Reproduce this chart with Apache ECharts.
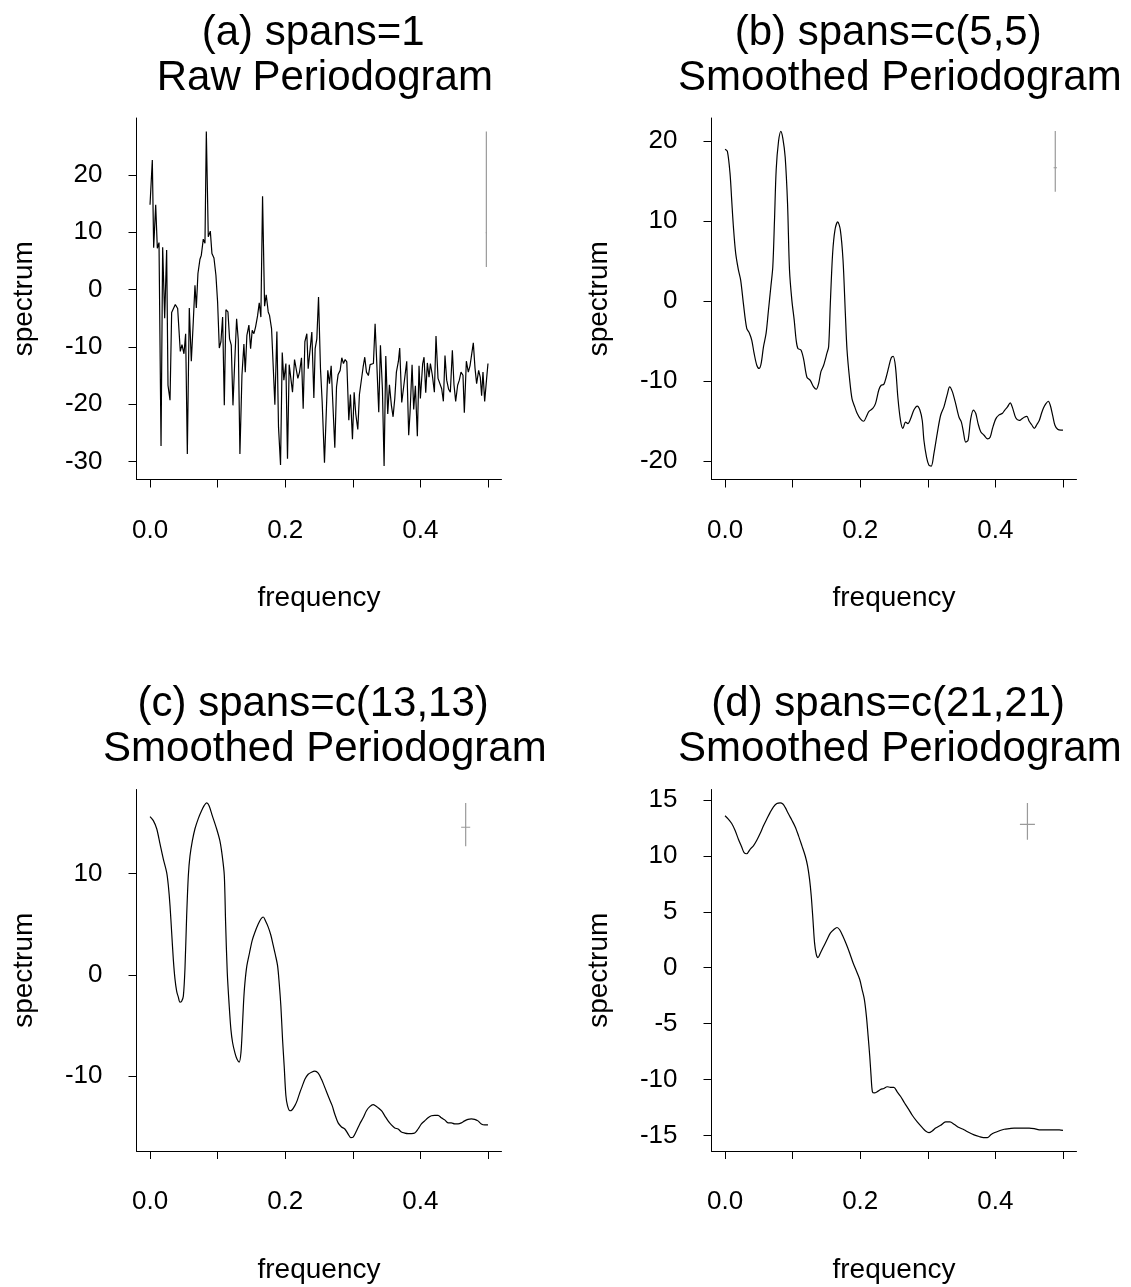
<!DOCTYPE html>
<html><head><meta charset="utf-8">
<script src="https://cdn.jsdelivr.net/npm/echarts@6.0.0/dist/echarts.min.js"></script>
<style>html,body{margin:0;padding:0;background:#fff}#c{width:1131px;height:1287px}</style>
</head><body><div id="c"></div>
<script>
// ---------- data ----------
const freqA = [0.0000,0.0034,0.0054,0.0084,0.0108,0.0133,0.0163,0.0187,0.0217,0.0246,0.0266,0.0296,0.0320,0.0345,0.0374,0.0409,0.0448,0.0473,0.0502,0.0527,0.0552,0.0581,0.0611,0.0640,0.0665,0.0685,0.0709,0.0739,0.0759,0.0788,0.0813,0.0833,0.0862,0.0892,0.0916,0.0946,0.0975,0.1000,0.1025,0.1049,0.1074,0.1099,0.1123,0.1153,0.1177,0.1202,0.1227,0.1251,0.1281,0.1305,0.1330,0.1360,0.1389,0.1409,0.1433,0.1463,0.1488,0.1512,0.1537,0.1562,0.1591,0.1616,0.1640,0.1665,0.1695,0.1719,0.1749,0.1768,0.1798,0.1823,0.1847,0.1877,0.1901,0.1931,0.1956,0.1980,0.2010,0.2034,0.2059,0.2084,0.2108,0.2138,0.2163,0.2187,0.2212,0.2241,0.2266,0.2291,0.2320,0.2340,0.2365,0.2394,0.2424,0.2443,0.2468,0.2493,0.2522,0.2547,0.2581,
  0.2630,0.2655,0.2680,0.2704,0.2734,0.2759,0.2783,0.2813,0.2837,0.2862,0.2887,0.2911,0.2941,0.2965,0.2995,0.3020,0.3044,0.3074,0.3098,0.3123,0.3153,0.3177,0.3202,0.3231,0.3256,0.3281,0.3305,0.3330,0.3355,0.3384,0.3409,0.3438,0.3463,0.3488,0.3517,0.3542,0.3571,0.3596,0.3621,0.3645,0.3675,0.3694,0.3724,0.3749,0.3773,0.3798,0.3827,0.3847,0.3877,0.3901,0.3926,0.3955,0.3980,0.4000,0.4034,0.4054,0.4079,0.4103,0.4128,0.4148,0.4177,0.4207,0.4231,0.4261,0.4286,0.4315,0.4340,0.4364,0.4389,0.4418,0.4443,0.4473,0.4497,0.4522,0.4551,0.4576,0.4601,0.4630,0.4650,0.4680,0.4709,0.4734,0.4763,0.4783,0.4808,0.4832,0.4862,0.4886,0.4906,0.4926,0.4951,0.4980,0.5000];
const specA = [14.8,22.6,7.3,14.8,7.2,8.2,-27.3,7.4,-5.0,6.9,-16.7,-19.3,-4.0,-4.2,-2.6,-3.3,-10.8,-9.6,-11.2,-7.7,-28.7,-3.2,-12.5,-5.6,0.75,-3.2,2.8,5.3,6.0,8.8,8.1,27.6,9.2,10.2,6.3,5.5,2.5,-2.2,-10.2,-9.1,-4.8,-20.2,-3.5,-3.9,-8.6,-9.7,-20.2,-13.2,-5.1,-8.7,-28.7,-15.0,-9.5,-14.4,-8.0,-6.2,-10.3,-7.1,-7.7,-6.5,-4.6,-2.3,-4.8,16.3,-2.9,-0.9,-3.9,-4.5,-6.8,-13.5,-20.1,-7.3,-24.0,-30.6,-11.0,-15.8,-12.9,-29.5,-13.1,-12.9,-17.9,-12.2,-12.5,-15.5,-14.4,-11.9,-20.8,-9.1,-7.7,-13.8,-13.5,-7.4,-18.9,-10.3,-8.6,-1.3,-13.8,-19.6,-30.2,
  -14.1,-16.4,-13.3,-13.5,-27.6,-17.0,-14.8,-14.1,-11.9,-12.9,-12.2,-12.6,-22.8,-18.3,-26.1,-17.9,-21.7,-24.4,-18.3,-18.2,-13.5,-11.8,-14.4,-15.0,-13.1,-13.3,-12.9,-5.96,-12.9,-21.4,-9.7,-17.3,-30.8,-11.6,-21.7,-16.6,-20.2,-22.2,-19.0,-14.4,-12.5,-10.2,-19.7,-17.3,-17.3,-12.5,-25.4,-21.5,-13.1,-20.9,-16.8,-25.6,-13.3,-19.0,-12.9,-11.8,-18.0,-12.8,-15.3,-12.9,-14.95,-17.9,-8.1,-15.5,-15.8,-17.3,-19.5,-11.5,-15.8,-17.4,-17.9,-10.6,-16.6,-19.5,-16.7,-15.8,-14.4,-14.95,-21.5,-12.5,-14.4,-13.3,-13.1,-9.3,-13.7,-16.4,-14.1,-15.3,-18.5,-14.4,-19.5,-15.5,-12.9];

const freqB = [0,0.0035,0.0074,0.0099,0.0124,0.0158,0.0198,0.0232,0.0272,0.0321,0.0361,0.0396,0.0430,0.0470,0.0504,0.0534,0.0569,0.0608,0.0643,0.0678,0.0707,0.0732,0.0757,0.0791,0.0826,0.0856,0.0890,0.0925,0.0954,0.0989,0.1024,0.1053,0.1078,0.1123,0.1162,0.1212,0.1261,0.1311,0.1350,0.1385,0.1419,0.1459,0.1508,0.1533,0.1558,0.1592,0.1627,0.1667,0.1706,0.1746,0.1780,0.1805,0.1845,0.1879,0.1919,0.1954,0.2003,0.2052,0.2092,0.2127,0.2186,0.2226,0.2275,0.2310,0.2349,0.2384,0.2423,0.2458,0.2488,0.2522,0.2557,0.2596,0.2631,0.2671,0.2705,0.2745,0.2794,0.2844,0.2883,0.2918,0.2943,0.2982,0.3017,0.3051,0.3091,0.3140,0.3190,0.3239,0.3289,0.3323,0.3363,0.3412,0.3462,0.3497,0.3526,0.3561,0.3595,0.3635,0.3675,0.3709,0.3744,0.3783,0.3833,0.3882,0.3922,0.3957,0.4006,0.4055,0.4105,0.4139,0.4179,0.4219,0.4253,0.4303,0.4352,0.4392,0.4426,0.4466,0.4500,0.4535,0.4575,0.4614,0.4649,0.4683,0.4713,0.4748,0.4782,0.4812,0.4847,0.4881,0.4921,0.4970,0.5000];
const specB = [18.96,18.7,15.96,12.6,9.3,5.96,3.9,2.6,-0.3,-3.4,-4.0,-4.9,-6.5,-8.0,-8.4,-7.8,-5.7,-4.0,-1.1,1.8,4.3,10.1,16.4,19.9,21.2,20.3,18.0,12.2,3.9,0.1,-2.4,-4.9,-5.9,-6.1,-7.2,-9.5,-9.9,-10.7,-11.0,-10.3,-8.8,-8.0,-6.5,-5.7,-0.3,5.96,8.9,9.9,8.9,5.1,-1.5,-6.1,-9.9,-12.2,-13.2,-14.0,-14.7,-15.0,-14.4,-13.8,-13.4,-12.8,-11.1,-10.5,-10.4,-9.5,-8.2,-7.1,-6.9,-8.2,-12.0,-14.9,-15.9,-15.1,-15.3,-14.7,-13.6,-13.1,-13.6,-14.9,-17.4,-19.5,-20.5,-20.6,-19.0,-16.5,-14.25,-13.2,-11.6,-10.7,-11.3,-12.8,-14.5,-15.1,-16.3,-17.6,-17.4,-14.7,-13.6,-14.0,-15.3,-16.3,-16.75,-17.2,-17.0,-15.9,-14.7,-14.2,-14.0,-13.6,-13.2,-12.7,-13.3,-14.6,-14.9,-14.7,-14.5,-14.4,-15.0,-15.4,-15.9,-15.4,-14.9,-14.0,-13.3,-12.8,-12.5,-13.0,-14.25,-15.5,-16.0,-16.1,-16.1];

const freqC = [0,0.0049,0.0099,0.0148,0.0197,0.0246,0.0271,0.0296,0.0320,0.0345,0.0369,0.0394,0.0419,0.0443,0.0468,0.0493,0.0517,0.0542,0.0567,0.0591,0.0626,0.0665,0.0714,0.0764,0.0803,0.0837,0.0872,0.0921,0.0985,0.1034,0.1069,0.1099,0.1118,0.1143,0.1172,0.1197,0.1222,0.1256,0.1286,0.1320,0.1345,0.1365,0.1384,0.1404,0.1433,0.1473,0.1512,0.1552,0.1601,0.1640,0.1675,0.1709,0.1749,0.1788,0.1823,0.1857,0.1887,0.1911,0.1936,0.1961,0.1985,0.2010,0.2034,0.2069,0.2103,0.2143,0.2177,0.2217,0.2251,0.2291,0.2340,0.2389,0.2438,0.2488,0.2537,0.2586,0.2645,0.2695,0.2734,0.2783,0.2833,0.2882,0.2931,0.2970,0.3005,0.3054,0.3103,0.3153,0.3202,0.3251,0.3300,0.3335,0.3374,0.3424,0.3473,0.3522,0.3571,0.3621,0.3670,0.3719,0.3768,0.3818,0.3867,0.3916,0.3966,0.4015,0.4064,0.4113,0.4163,0.4212,0.4261,0.4310,0.4360,0.4409,0.4458,0.4507,0.4557,0.4606,0.4655,0.4704,0.4754,0.4803,0.4852,0.4901,0.4951,0.5000];
const specC = [15.6,15.2,14.4,12.9,11.4,10.1,8.8,6.8,4.2,1.5,-0.4,-1.6,-2.2,-2.7,-2.6,-2.1,0.6,5.8,9.8,11.7,13.2,14.4,15.4,16.2,16.7,16.95,16.7,15.7,14.4,13.2,11.7,9.8,5.2,0.2,-3.1,-5.4,-6.7,-7.7,-8.3,-8.6,-7.7,-5.4,-2.7,-0.8,0.9,2.2,3.4,4.2,5.0,5.5,5.7,5.3,4.7,3.9,2.9,1.9,0.9,-0.8,-3.1,-6.4,-9.0,-11.9,-12.9,-13.4,-13.3,-12.9,-12.4,-11.6,-11.0,-10.3,-9.8,-9.6,-9.5,-9.7,-10.3,-11.1,-12.1,-12.9,-13.75,-14.6,-15.0,-15.2,-15.7,-16.05,-16.0,-15.4,-14.7,-14.1,-13.4,-13.0,-12.8,-12.9,-13.1,-13.4,-13.9,-14.4,-14.8,-15.1,-15.2,-15.5,-15.6,-15.65,-15.65,-15.6,-15.2,-14.7,-14.4,-14.1,-13.9,-13.85,-13.85,-14.1,-14.3,-14.6,-14.6,-14.7,-14.7,-14.6,-14.4,-14.25,-14.2,-14.25,-14.4,-14.7,-14.8,-14.8];

const freqD = [0,0.0049,0.0099,0.0148,0.0198,0.0247,0.0282,0.0321,0.0371,0.0420,0.0470,0.0519,0.0569,0.0618,0.0668,0.0717,0.0767,0.0816,0.0856,0.0890,0.0940,0.0989,0.1039,0.1088,0.1138,0.1187,0.1222,0.1251,0.1276,0.1301,0.1325,0.1350,0.1375,0.1410,0.1459,0.1508,0.1558,0.1607,0.1657,0.1696,0.1746,0.1795,0.1845,0.1894,0.1944,0.1993,0.2028,0.2062,0.2092,0.2117,0.2141,0.2161,0.2181,0.2211,0.2250,0.2300,0.2349,0.2399,0.2448,0.2497,0.2547,0.2596,0.2656,0.2720,0.2770,0.2844,0.2918,0.2967,0.3017,0.3066,0.3116,0.3190,0.3264,0.3328,0.3388,0.3462,0.3536,0.3610,0.3684,0.3759,0.3823,0.3882,0.3932,0.3991,0.4055,0.4130,0.4204,0.4278,0.4352,0.4426,0.4500,0.4575,0.4649,0.4723,0.4797,0.4871,0.4946,0.5000];
const specD = [13.6,13.3,12.9,12.3,11.5,10.8,10.3,10.2,10.6,10.9,11.4,12.0,12.7,13.3,13.9,14.4,14.7,14.75,14.65,14.35,13.75,13.2,12.6,11.8,10.9,10.0,9.1,7.9,6.4,4.3,2.2,1.2,0.9,1.3,1.9,2.5,3.1,3.4,3.6,3.4,2.8,2.1,1.3,0.45,-0.3,-1.05,-1.95,-2.85,-4.35,-6.1,-7.9,-9.7,-11.1,-11.2,-11.1,-10.9,-10.8,-10.65,-10.7,-10.7,-11.1,-11.5,-12.1,-12.7,-13.2,-13.8,-14.3,-14.6,-14.75,-14.6,-14.35,-14.1,-13.8,-13.8,-14.0,-14.3,-14.5,-14.75,-14.95,-15.1,-15.2,-15.2,-14.95,-14.75,-14.6,-14.45,-14.4,-14.35,-14.35,-14.35,-14.35,-14.4,-14.5,-14.5,-14.5,-14.5,-14.5,-14.55];

// confidence-interval bars: [freq, lower, upper, centre, half bandwidth]
const ciA = [0.4976, 3.95, 27.6, 9.95, 0.0008];
const ciB = [0.4886, 13.66, 21.25, 16.66, 0.0025];
const ciC = [0.4670, 12.67, 16.95, 14.55, 0.0067];
const ciD = [0.4474, 11.45, 14.75, 12.83, 0.0111];

const xTickValues = [0, 0.1, 0.2, 0.3, 0.4, 0.5];
const xLabelValues = [0, 0.2, 0.4];
const yTicksA = [-30, -20, -10, 0, 10, 20];
const yTicksB = [-20, -10, 0, 10, 20];
const yTicksC = [-10, 0, 10];
const yTicksD = [-15, -10, -5, 0, 5, 10, 15];

const titleLine1 = ["(a) spans=1 ", "(b) spans=c(5,5) ", "(c) spans=c(13,13) ", "(d) spans=c(21,21) "];
const titleLine2 = [" Raw Periodogram", " Smoothed Periodogram", " Smoothed Periodogram", " Smoothed Periodogram"];

// ---------- layout ----------
const FONT = '"Liberation Sans", Arial, Helvetica, sans-serif';
const panels = [
  {f: freqA, s: specA, ci: ciA, yt: yTicksA, left: 136.5, top: 118, smooth: false},
  {f: freqB, s: specB, ci: ciB, yt: yTicksB, left: 711.5, top: 118, smooth: 0.3},
  {f: freqC, s: specC, ci: ciC, yt: yTicksC, left: 136.5, top: 789.5, smooth: 0.3},
  {f: freqD, s: specD, ci: ciD, yt: yTicksD, left: 711.5, top: 789.5, smooth: 0.3}
];
const W = 365, H = 361.5;

const grid = [], xAxis = [], yAxis = [], series = [], graphic = [];
panels.forEach((p, i) => {
  const mn = Math.min(...p.s), mx = Math.max(...p.s), r = mx - mn;
  grid.push({left: p.left, top: p.top, width: W, height: H});
  xAxis.push({
    gridIndex: i, type: 'value', min: -0.02, max: 0.52,
    axisLine: {show: true, onZero: false, lineStyle: {color: '#000', width: 1}},
    axisTick: {show: true, customValues: xTickValues, length: 8, lineStyle: {color: '#000', width: 1}},
    axisLabel: {show: true, customValues: xLabelValues, formatter: v => v.toFixed(1),
      fontSize: 26, color: '#000', margin: 38, fontFamily: FONT},
    splitLine: {show: false}
  });
  yAxis.push({
    gridIndex: i, type: 'value', min: mn - 0.04 * r, max: mx + 0.04 * r,
    axisLine: {show: true, onZero: false, lineStyle: {color: '#000', width: 1}},
    axisTick: {show: true, customValues: p.yt, length: 8, lineStyle: {color: '#000', width: 1}},
    axisLabel: {show: true, customValues: p.yt, fontSize: 26, color: '#000', margin: 34, fontFamily: FONT},
    splitLine: {show: false}
  });
  series.push({
    type: 'line', xAxisIndex: i, yAxisIndex: i, showSymbol: false, smooth: p.smooth,
    lineStyle: {color: '#000', width: 1.2}, animation: false, silent: true,
    data: p.f.map((x, k) => [x, p.s[k]])
  });
  const c = p.ci;
  series.push({
    type: 'line', xAxisIndex: i, yAxisIndex: i, showSymbol: false, animation: false, silent: true,
    lineStyle: {color: '#9a9a9a', width: 1.2}, data: [[c[0], c[1]], [c[0], c[2]]]
  });
  series.push({
    type: 'line', xAxisIndex: i, yAxisIndex: i, showSymbol: false, animation: false, silent: true,
    lineStyle: {color: '#9a9a9a', width: 1.2}, data: [[c[0] - c[4], c[3]], [c[0] + c[4], c[3]]]
  });
  const cx = p.left + W / 2;
  graphic.push({type: 'text', x: cx, y: p.top - 85, style: {text: titleLine1[i], fontSize: 42, fontFamily: FONT, fill: '#000', align: 'center', verticalAlign: 'middle'}});
  graphic.push({type: 'text', x: cx, y: p.top - 40, style: {text: titleLine2[i], fontSize: 42, fontFamily: FONT, fill: '#000', align: 'center', verticalAlign: 'middle'}});
  graphic.push({type: 'text', x: cx, y: p.top + H + 119, style: {text: 'frequency', fontSize: 28, fontFamily: FONT, fill: '#000', align: 'center', verticalAlign: 'middle'}});
  graphic.push({type: 'text', x: p.left - 112, y: p.top + H / 2, rotation: Math.PI / 2,
    style: {text: 'spectrum', fontSize: 28, fontFamily: FONT, fill: '#000', align: 'center', verticalAlign: 'middle'}});
});

const chart = echarts.init(document.getElementById('c'), null, {renderer: 'canvas'});
chart.setOption({backgroundColor: '#fff', animation: false, grid, xAxis, yAxis, series, graphic});
</script></body></html>
